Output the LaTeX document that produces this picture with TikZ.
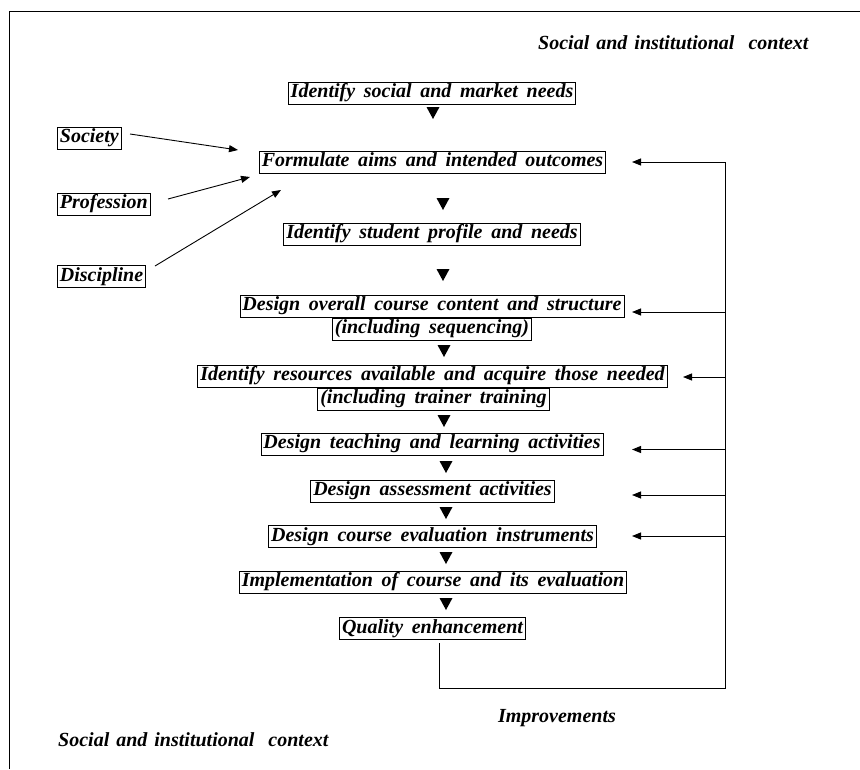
\documentclass[tikz,border=0pt]{standalone}
\usepackage{fontspec}
\setmainfont{Liberation Serif}
\usetikzlibrary{arrows.meta}
\begin{document}
\begin{tikzpicture}[x=1pt,y=-1pt,
  every node/.style={font=\fontsize{20}{22}\selectfont\bfseries\itshape},
  box/.style={draw, line width=0.8pt, inner xsep=2.5pt, inner ysep=1.8pt, text height=14pt, text depth=4.5pt, execute at begin node={\spaceskip=8.7pt plus 1pt\relax}},
  lbl/.style={inner sep=0pt, execute at begin node={\spaceskip=7pt plus 1pt\relax}},
  tip/.style={-{Triangle[length=9pt,width=7pt]}, line width=0.9pt},
  fb/.style={line width=0.9pt},
  dtri/.pic={\fill (-6.5,-6) -- (6.5,-6) -- (0,6) -- cycle;}
]
\useasboundingbox (0,0) rectangle (860,769);
\draw[line width=1pt] (9,769) -- (9,11) -- (860,11);

\node[lbl, anchor=west] (ctxtop) at (538,43) {Social and institutional\ \ context};
\node[lbl, anchor=west] (ctxbot) at (58,740) {Social and institutional\ \ context};
\node[lbl] (impr) at (557,718) {Improvements};

\node[box] (b1) at (432,93) {Identify social and market needs};
\node[box] (b2) at (432.5,162) {Formulate aims and intended outcomes};
\node[box] (b3) at (432,234) {Identify student profile and needs};
\node[box] (b4) at (432,306) {Design overall course content and structure};
\node[box] (b4b) at (432,329) {(including sequencing)};
\node[box] (b5) at (432.5,376) {Identify resources available and acquire those needed};
\node[box] (b5b) at (433.5,399) {(including trainer training};
\node[box] (b6) at (432,444) {Design teaching and learning activities};
\node[box] (b7) at (432.5,491) {Design assessment activities};
\node[box] (b8) at (432.5,536.5) {Design course evaluation instruments};
\node[box] (b9) at (433,582) {Implementation of course and its evaluation};
\node[box] (b10) at (432.5,628.5) {Quality enhancement};

\node[box, anchor=west] (soc) at (57,138) {Society};
\node[box, anchor=west] (pro) at (57,204) {Profession};
\node[box, anchor=west] (dis) at (57,276.5) {Discipline};

\pic at (433,113) {dtri};
\pic at (443,204) {dtri};
\pic at (443,275) {dtri};
\pic at (444,351) {dtri};
\pic at (444,421) {dtri};
\pic at (446,467) {dtri};
\pic at (446,513) {dtri};
\pic at (446,558) {dtri};
\pic at (446,604) {dtri};

\coordinate (s1) at (130,134);
\coordinate (s2) at (238,150);
\coordinate (p1) at (168,199);
\coordinate (p2) at (250,177);
\coordinate (d1) at (155,266);
\coordinate (d2) at (281,190);
\draw[tip] (s1) -- (s2);
\draw[tip] (p1) -- (p2);
\draw[tip] (d1) -- (d2);

\coordinate (q0) at (439,643);
\coordinate (corner) at (725,688);
\coordinate (top) at (725,162);
\draw[fb] (q0) |- (corner) -- (top);
\draw[tip] (top) -- (632,162);
\draw[tip] (725,312) -- (632,312);
\draw[tip] (725,377) -- (683,377);
\draw[tip] (725,449.5) -- (632,449.5);
\draw[tip] (725,495) -- (632,495);
\draw[tip] (725,536) -- (632,536);
\end{tikzpicture}
\end{document}
